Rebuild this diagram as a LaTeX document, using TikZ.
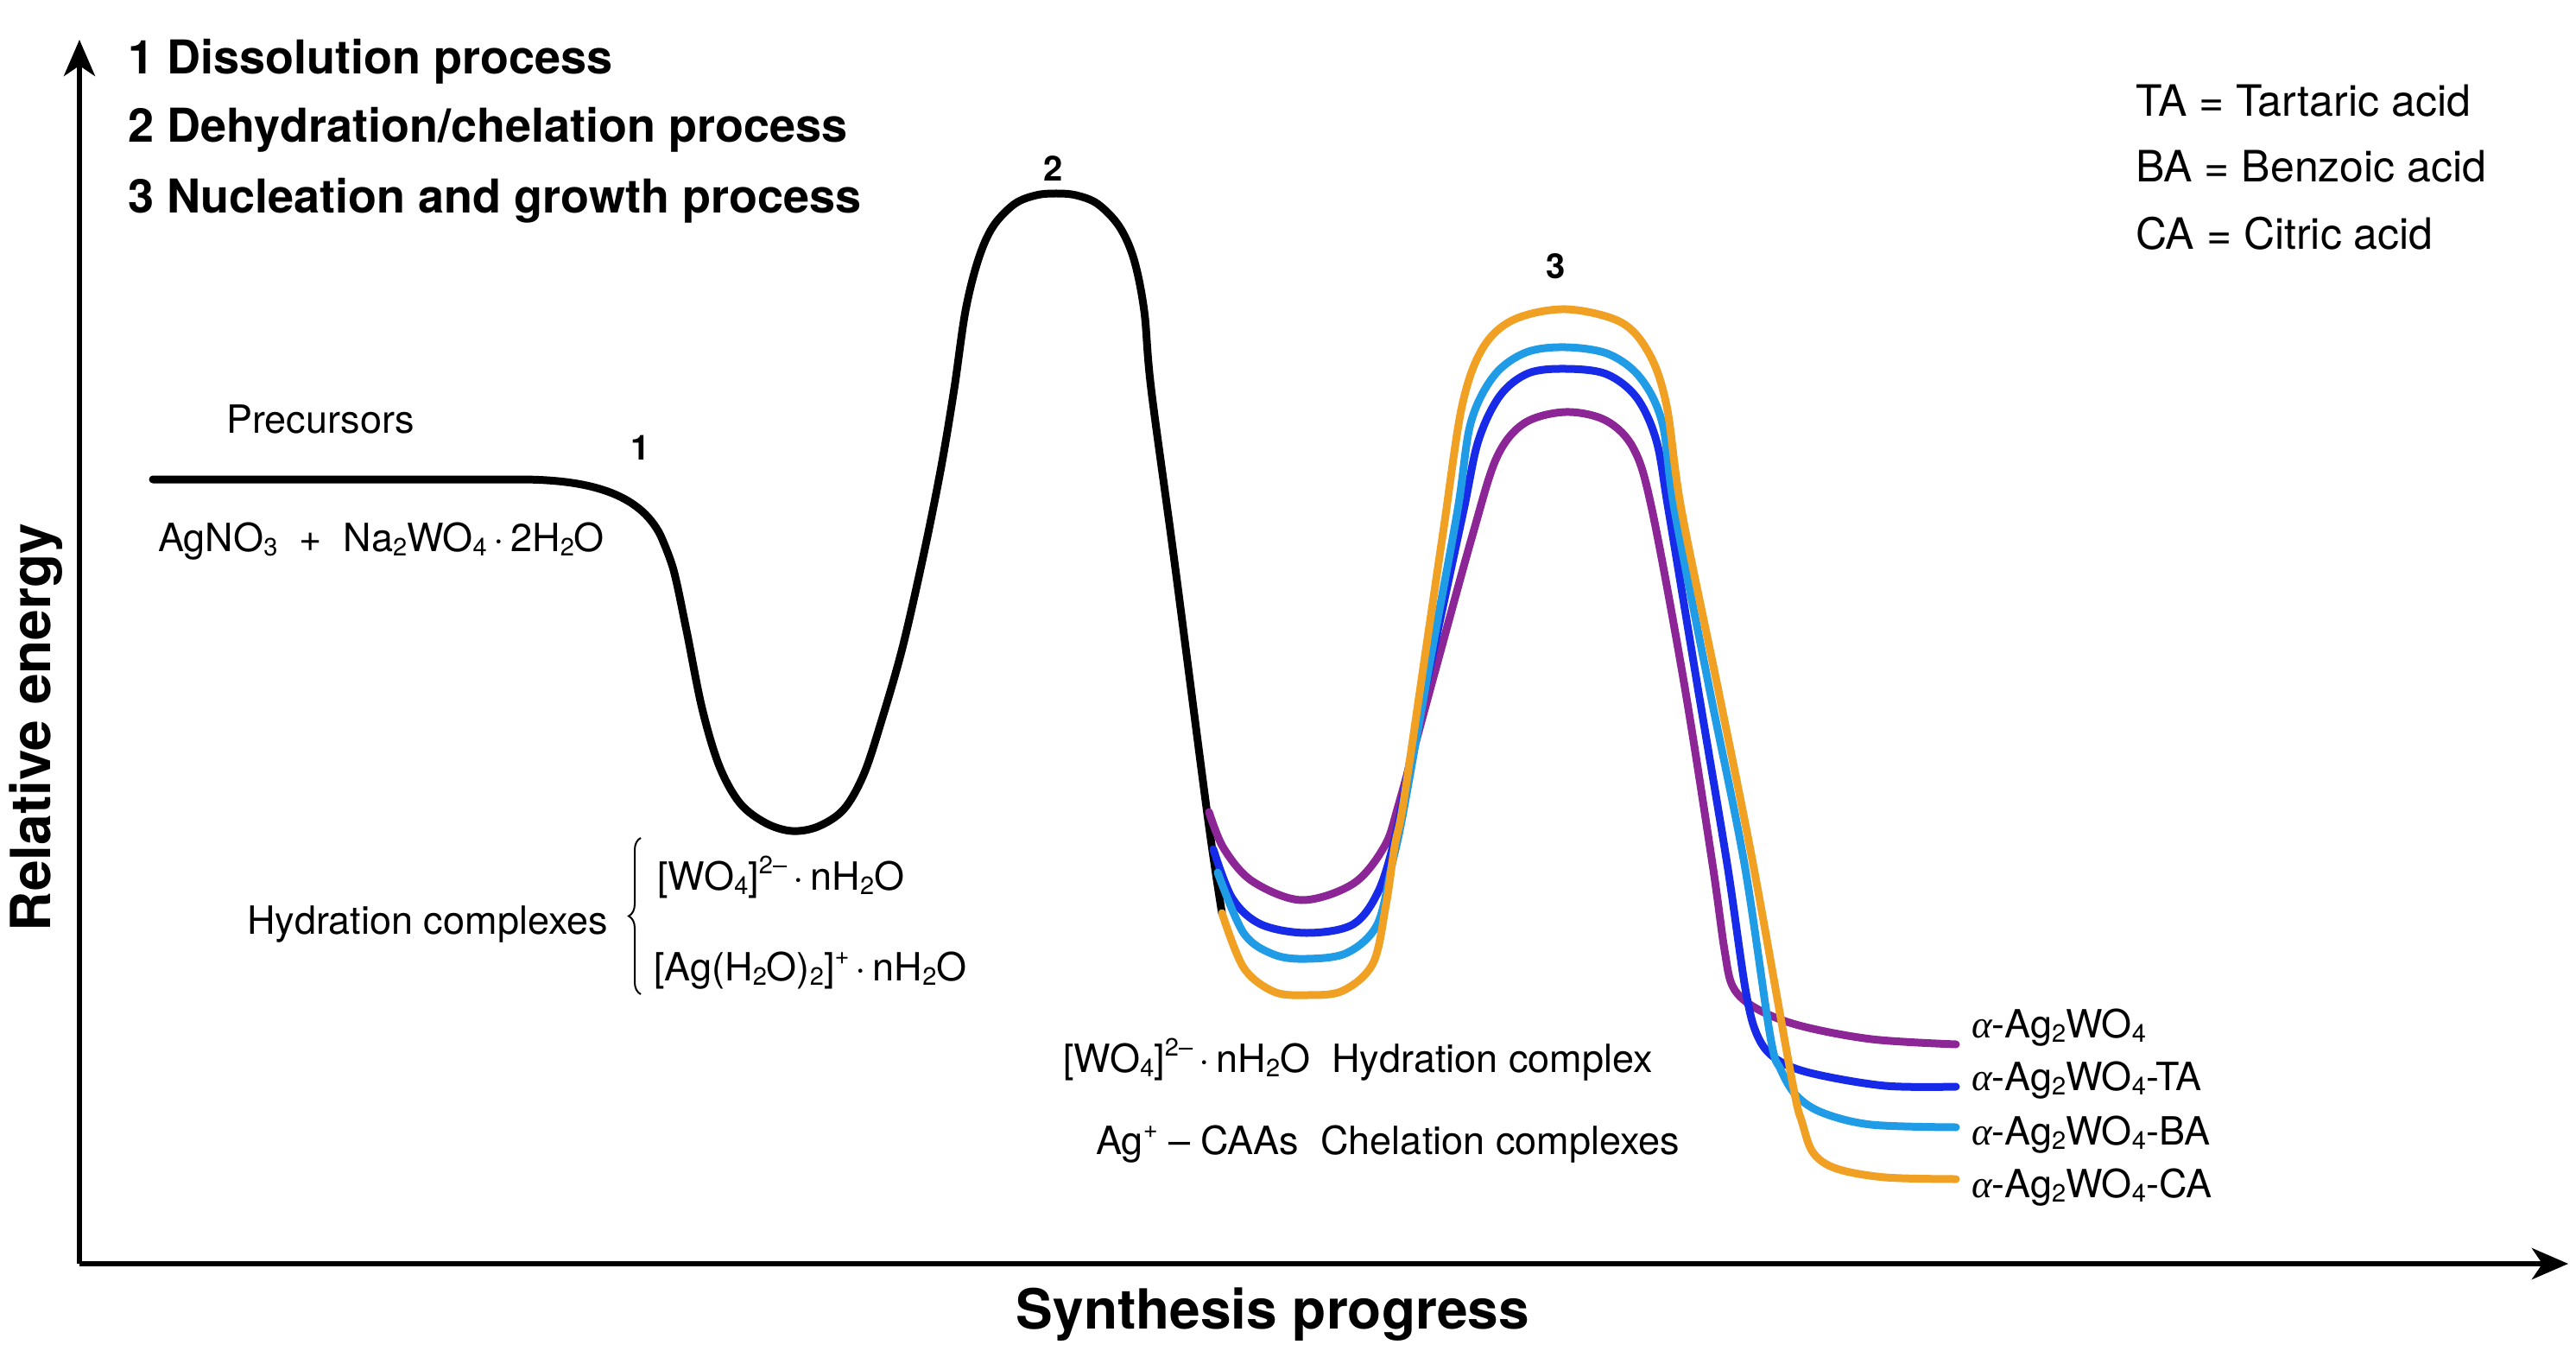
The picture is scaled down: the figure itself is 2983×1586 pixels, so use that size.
\documentclass[tikz,border=0pt]{standalone}
\usepackage{fontspec}
\setmainfont{TeX Gyre Heros}
\newfontfamily\greekit{Liberation Serif}
\usetikzlibrary{arrows.meta,decorations.pathreplacing}
\definecolor{cpurple}{RGB}{140,38,150}
\definecolor{cblue}{RGB}{22,42,232}
\definecolor{clight}{RGB}{32,155,230}
\definecolor{corange}{RGB}{240,160,35}
\newcommand\chs[1]{\raisebox{-0.12em}{\fontsize{29}{29}\selectfont #1}}
\newcommand\chp[1]{\raisebox{0.42em}{\fontsize{29}{29}\selectfont #1}}
\newcommand\alp{{\greekit\itshape α}}
\begin{document}
\begin{tikzpicture}[x=1pt,y=-1pt,
  curve/.style={line width=9pt, line cap=round, line join=round},
  axis/.style={line width=6pt, -{Stealth[length=42pt,width=36pt,inset=12pt]}},
  lab/.style={inner sep=0pt, font=\fontsize{45}{54}\selectfont},
  leg/.style={inner sep=0pt, font=\fontsize{50}{60}\selectfont},
  ttl/.style={inner sep=0pt, font=\fontsize{54}{64}\selectfont\bfseries},
  num/.style={inner sep=0pt, font=\fontsize{40}{48}\selectfont\bfseries},
  axlab/.style={inner sep=0pt, font=\fontsize{64}{76}\selectfont\bfseries}]
\useasboundingbox (0,0) rectangle (2983,1586);
% axes
\coordinate (O) at (92,1463);
\coordinate (Ytip) at (92,46);
\coordinate (Xtip) at (2974,1463);
\draw[axis] (O) -- (Ytip);
\draw[axis] (O) -- (Xtip);
% black curve
\draw[curve, black] (177,555) -- (600,555)
 .. controls (680,555) and (740,570) .. (765,620)
 plot[smooth, tension=0.55] coordinates {
 (765,620) (780,660) (795,730) (813,820)
 (833,887) (857,930) (887,953) (917,962) (947,957) (977,937) (1000,897) (1020,837)
 (1045,750) (1070,640) (1090,540) (1105,450) (1118,360) (1133,300) (1150,262)
 (1175,236) (1200,226) (1223,224) (1246,226) (1271,236) (1296,262) (1313,300)
 (1325,360) (1333,450) (1360,650) (1398,942) (1415,1057)};
% coloured curves
\draw[curve, cpurple] plot[smooth, tension=0.55] coordinates {
 (1400,940) (1417,982) (1450,1020) (1507,1042) (1567,1023) (1603,980) (1620,930)
 (1661,780) (1705,620) (1733,530) (1765,490) (1813,477) (1860,487) (1892,520)
 (1913,590) (1950,790) (1983,1000) (1997,1100) (2007,1143) (2033,1167)
 (2083,1187) (2167,1203) (2265,1209)};
\draw[curve, cblue] plot[smooth, tension=0.55] coordinates {
 (1405,983) (1427,1040) (1460,1070) (1513,1080) (1567,1070) (1597,1030) (1617,963)
 (1633,880) (1665,730) (1695,590) (1712,510) (1737,458) (1770,432) (1813,427)
 (1860,433) (1895,460) (1918,510) (1932,590) (1965,790) (2000,1000) (2022,1150)
 (2037,1203) (2060,1228) (2100,1243) (2183,1257) (2265,1258)};
\draw[curve, clight] plot[smooth, tension=0.55] coordinates {
 (1410,1010) (1440,1080) (1475,1105) (1513,1110) (1560,1103) (1595,1070) (1612,1000)
 (1625,940) (1657,760) (1688,590) (1703,490) (1730,435) (1767,408) (1813,402)
 (1863,410) (1900,438) (1925,490) (1939,590) (1980,800) (2020,1000) (2050,1200)
 (2062,1238) (2080,1268) (2110,1288) (2167,1302) (2265,1305)};
\draw[curve, corange] plot[smooth, tension=0.55] coordinates {
 (1415,1057) (1440,1120) (1475,1148) (1513,1152) (1555,1147) (1590,1115) (1605,1047)
 (1615,980) (1625,930) (1650,760) (1672,610) (1693,470) (1717,403) (1753,370)
 (1813,358) (1877,373) (1910,410) (1930,470) (1947,590) (1990,800) (2030,1000)
 (2075,1250) (2087,1300) (2100,1335) (2127,1353) (2183,1363) (2265,1365)};
% titles
\node[ttl, anchor=base west] (t1) at (148,86) {1 Dissolution process};
\node[ttl, anchor=base west] (t2) at (148,165) {2 Dehydration/chelation process};
\node[ttl, anchor=base west] (t3) at (148,247) {3 Nucleation and growth process};
% legend
\node[leg, anchor=base west] (ta) at (2473,135) {TA = Tartaric acid};
\node[leg, anchor=base west] (ba) at (2473,211) {BA = Benzoic acid};
\node[leg, anchor=base west] (ca) at (2473,289) {CA = Citric acid};
% peak numbers
\node[num, anchor=base] (n1) at (742,532) {1};
\node[num, anchor=base] (n2) at (1220,210) {2};
\node[num, anchor=base] (n3) at (1802,323) {3};
% left labels
\node[lab, anchor=base] (prec) at (371,501) {Precursors};
\node[lab, anchor=base west] (react) at (183,638) {AgNO\chs{3}\ \ +\ \ Na\chs{2}WO\chs{4}\,·\,2H\chs{2}O};
\node[lab, anchor=base east] (hyd) at (704,1081) {Hydration complexes};
\draw[line width=2pt, decorate, decoration={brace, amplitude=14pt}] (742,1151) -- (742,970);
\node[lab, anchor=base west] (w1) at (761,1030) {[WO\chs{4}]\chp{2–}\,·\,nH\chs{2}O};
\node[lab, anchor=base west] (w2) at (757,1135) {[Ag(H\chs{2}O)\chs{2}]\chp{+}\,·\,nH\chs{2}O};
% middle labels
\node[lab, anchor=base west] (m1) at (1231,1241) {[WO\chs{4}]\chp{2–}\,·\,nH\chs{2}O\ \ Hydration complex};
\node[lab, anchor=base west] (m2) at (1269,1336) {Ag\chp{+}\ –\ CAAs\ \ Chelation complexes};
% product labels
\node[lab, anchor=base west] (p1) at (2283,1201) {\alp-Ag\chs{2}WO\chs{4}};
\node[lab, anchor=base west] (p2) at (2283,1262) {\alp-Ag\chs{2}WO\chs{4}-TA};
\node[lab, anchor=base west] (p3) at (2283,1325) {\alp-Ag\chs{2}WO\chs{4}-BA};
\node[lab, anchor=base west] (p4) at (2283,1386) {\alp-Ag\chs{2}WO\chs{4}-CA};
% axis labels
\node[axlab, rotate=90] (ylab) at (42,842) {Relative energy};
\node[axlab] (xlab) at (1474,1522) {Synthesis progress};
\end{tikzpicture}
\end{document}
